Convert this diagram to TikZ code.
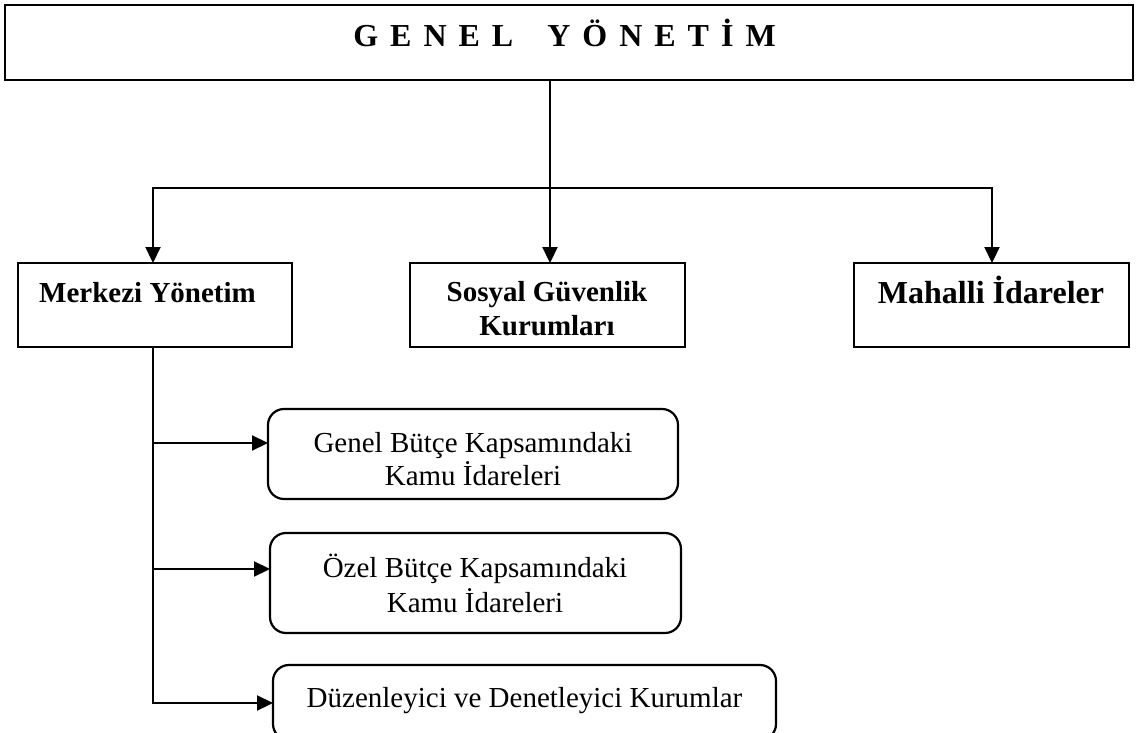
\documentclass[tikz,border=0pt]{standalone}
\usepackage{fontspec}
\setmainfont{Liberation Serif}
\usetikzlibrary{arrows.meta}

\begin{document}
\begin{tikzpicture}[x=1pt,y=-1pt,
  frame/.style={draw=black,line width=2.6pt,inner sep=0pt,outer sep=0pt},
  roundbox/.style={draw=black,line width=2.2pt,rounded corners=16pt,inner sep=0pt,outer sep=0pt},
  link/.style={line width=2.2pt,draw=black},
  arr/.style={link,-{Triangle[length=16pt,width=15pt]}},
  headtext/.style={anchor=base,font=\fontsize{29}{34}\selectfont\bfseries,inner sep=0pt},
  subtext/.style={anchor=base,font=\fontsize{29}{34}\selectfont,inner sep=0pt}]

\useasboundingbox (0,0) rectangle (1138,733);

% top level
\node[frame,minimum width=1128pt,minimum height=75pt] (top) at (569,42.5) {};
\node[anchor=base,inner sep=0pt,font=\fontsize{32}{38}\selectfont\bfseries] (topT) at (564.5,47)
  {G\hspace{12pt}E\hspace{12pt}N\hspace{12pt}E\hspace{12pt}L\hspace{34pt}Y\hspace{12pt}Ö\hspace{12pt}N\hspace{12pt}E\hspace{12pt}T\hspace{12pt}İ\hspace{12pt}M};

% second level boxes
\node[frame,minimum width=274pt,minimum height=84pt] (mer) at (155,305) {};
\node[headtext] (merT) at (147.5,302) {Merkezi Yönetim};

\node[frame,minimum width=275pt,minimum height=84pt] (sos) at (547.5,305) {};
\node[headtext] (sosT1) at (547,301) {Sosyal Güvenlik};
\node[headtext] (sosT2) at (547,335) {Kurumları};

\node[frame,minimum width=275pt,minimum height=84pt] (mah) at (991.5,305) {};
\node[headtext,font=\fontsize{32}{38}\selectfont\bfseries] (mahT) at (991,303) {Mahalli İdareler};

% central government sub-units
\node[roundbox,minimum width=410pt,minimum height=90pt] (gen) at (473,454) {};
\node[subtext] (genT1) at (473,452) {Genel Bütçe Kapsamındaki};
\node[subtext] (genT2) at (473,485) {Kamu İdareleri};

\node[roundbox,minimum width=411pt,minimum height=100pt] (oze) at (475.5,583) {};
\node[subtext] (ozeT1) at (475,577) {Özel Bütçe Kapsamındaki};
\node[subtext] (ozeT2) at (475,612) {Kamu İdareleri};

\node[roundbox,minimum width=503pt,minimum height=75pt] (duz) at (524.5,702.5) {};
\node[subtext] (duzT) at (524.5,707) {Düzenleyici ve Denetleyici Kurumlar};

% distribution line under the top box
\coordinate (hl) at (153,188);
\coordinate (hm) at (550,188);
\coordinate (hr) at (992,188);
\draw[link] (top.south -| hm) -- (hm);
\draw[link,line cap=rect] (hl) -- (hr);
\draw[arr] (hl) -- (hl |- mer.north);
\draw[arr] (hm) -- (hm |- sos.north);
\draw[arr] (hr) -- (hr |- mah.north);

% branch of the central government
\coordinate (b1) at (153,443);
\coordinate (b2) at (153,569);
\coordinate (b3) at (153,703);
\draw[link,line cap=rect] (mer.south -| b1) -- (b3);
\draw[arr] (b1) -- (b1 -| gen.west);
\draw[arr] (b2) -- (b2 -| oze.west);
\draw[arr] (b3) -- (b3 -| duz.west);
\end{tikzpicture}
\end{document}
